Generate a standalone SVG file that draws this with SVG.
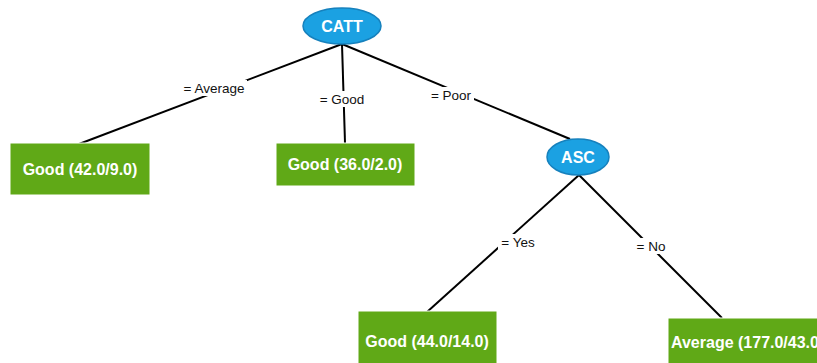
<svg xmlns="http://www.w3.org/2000/svg" width="817" height="363" viewBox="0 0 817 363">
  <style>
    .split { fill: #1ba1e2; stroke: #1681bd; stroke-width: 1.5; }
    .leaf { fill: #60a917; stroke: #ffffff; stroke-width: 1; }
    .node-text { font-family: "Liberation Sans", Arial, sans-serif; font-size: 16px; font-weight: bold; fill: #ffffff; }
    .edge { stroke: #000000; stroke-width: 2; fill: none; }
    .edge-bg { fill: #ffffff; }
    .edge-text { font-family: "Liberation Sans", Arial, sans-serif; font-size: 13.5px; fill: #111111; }
  </style>
  <rect width="817" height="363" fill="#ffffff"/>

  <g id="connectors">
    <!-- CATT branches -->
    <line class="edge" x1="342" y1="44" x2="79" y2="144"/>
    <line class="edge" x1="342" y1="44" x2="345" y2="143"/>
    <line class="edge" x1="342" y1="44" x2="570" y2="139"/>
    <!-- ASC branches -->
    <line class="edge" x1="579" y1="175" x2="427" y2="312"/>
    <line class="edge" x1="579" y1="175" x2="722" y2="318"/>

    <!-- branch labels on white plates -->
    <rect class="edge-bg" x="181" y="80" width="66" height="16"/>
    <text class="edge-text" x="214" y="93" text-anchor="middle">= Average</text>
    <rect class="edge-bg" x="316" y="91" width="51" height="16"/>
    <text class="edge-text" x="342" y="104" text-anchor="middle">= Good</text>
    <rect class="edge-bg" x="429" y="87" width="45" height="16"/>
    <text class="edge-text" x="451" y="100" text-anchor="middle">= Poor</text>
    <rect class="edge-bg" x="498" y="234" width="40" height="16"/>
    <text class="edge-text" x="518" y="247" text-anchor="middle">= Yes</text>
    <rect class="edge-bg" x="634" y="238" width="34" height="16"/>
    <text class="edge-text" x="651" y="251" text-anchor="middle">= No</text>
  </g>

  <g id="node-catt">
    <ellipse class="split" cx="342" cy="26" rx="39" ry="18"/>
    <text class="node-text" x="342" y="32" text-anchor="middle">CATT</text>
  </g>

  <g id="node-asc">
    <ellipse class="split" cx="578" cy="157" rx="31" ry="18"/>
    <text class="node-text" x="578" y="163" text-anchor="middle">ASC</text>
  </g>

  <g id="leaf-average-good">
    <rect class="leaf" x="10" y="143" width="140" height="52"/>
    <text class="node-text" x="80" y="175" text-anchor="middle">Good (42.0/9.0)</text>
  </g>

  <g id="leaf-good-good">
    <rect class="leaf" x="276" y="143" width="139" height="43"/>
    <text class="node-text" x="345" y="170" text-anchor="middle">Good (36.0/2.0)</text>
  </g>

  <g id="leaf-yes-good">
    <rect class="leaf" x="358" y="311" width="139" height="60"/>
    <text class="node-text" x="427" y="347" text-anchor="middle">Good (44.0/14.0)</text>
  </g>

  <g id="leaf-no-average">
    <rect class="leaf" x="668" y="318" width="170" height="60"/>
    <text class="node-text" x="671" y="348">Average (177.0/43.0)</text>
  </g>
</svg>
